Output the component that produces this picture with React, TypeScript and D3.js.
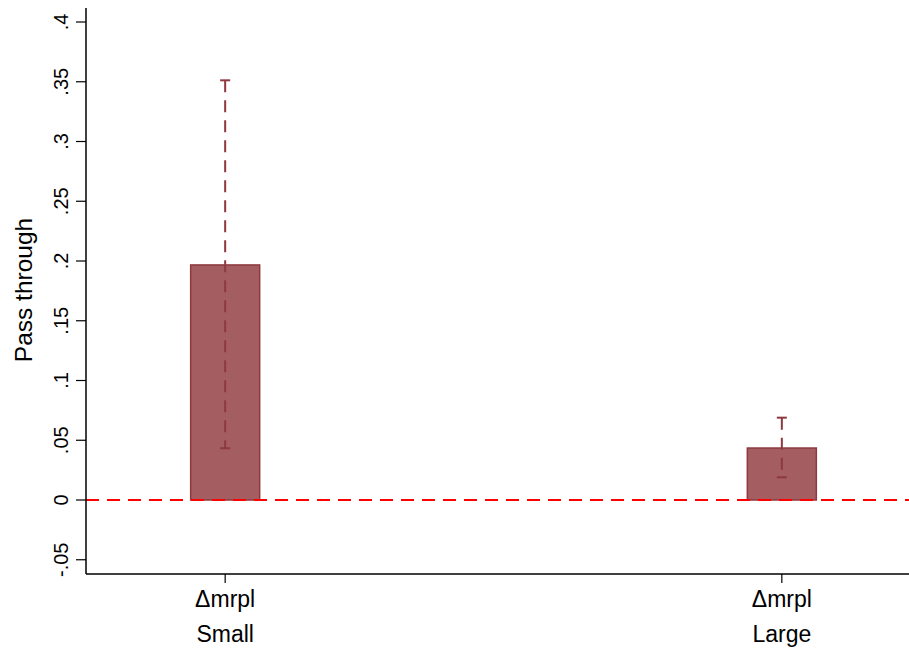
import React from "react";
import * as d3 from "d3";

const categories = ["Small", "Large"];
const variableLabel = "Δmrpl";
const estimates = [0.1967, 0.0435];
const ciLower = [0.0433, 0.019];
const ciUpper = [0.3512, 0.0689];
const yTicks = [-0.05, 0, 0.05, 0.1, 0.15, 0.2, 0.25, 0.3, 0.35, 0.4];
const yTickLabels = ["-.05", "0", ".05", ".1", ".15", ".2", ".25", ".3", ".35", ".4"];

const W = 909;
const H = 652;
const left = 86;
const top = 8;
const bottom = 574;

export default function App() {
  const y = d3.scaleLinear().domain([-0.06192, 0.41172]).range([bottom, top]);
  const x = d3.scalePoint<string>().domain(categories).range([left, 921]).padding(0.25);
  const barW = 69;
  const capW = 10;
  const fill = "#a45e62";
  const stroke = "#8e3840";
  const font = "'Liberation Sans', Arial, Helvetica, sans-serif";

  return (
    <svg width={W} height={H} style={{ position: "absolute", left: 0, top: 0, background: "#fff" }} fontFamily={font}>
      <rect width={W} height={H} fill="#fff" />
      {categories.map((c, i) => (
        <rect
          key={"bar" + c}
          x={(x(c) as number) - barW / 2}
          y={y(Math.max(0, estimates[i]))}
          width={barW}
          height={Math.abs(y(0) - y(estimates[i]))}
          fill={fill}
          stroke={stroke}
          strokeWidth={1.5}
        />
      ))}
      <line x1={left} x2={W} y1={y(0)} y2={y(0)} stroke="#ff0000" strokeWidth={2} strokeDasharray="13,8" />
      {categories.map((c, i) => {
        const cx = x(c) as number;
        return (
          <g key={"ci" + c} stroke={stroke} strokeWidth={2}>
            <line x1={cx} x2={cx} y1={y(ciUpper[i])} y2={y(ciLower[i])} strokeDasharray="12,8" />
            <line x1={cx - capW / 2} x2={cx + capW / 2} y1={y(ciUpper[i])} y2={y(ciUpper[i])} />
            <line x1={cx - capW / 2} x2={cx + capW / 2} y1={y(ciLower[i])} y2={y(ciLower[i])} />
          </g>
        );
      })}
      <line x1={left} x2={left} y1={top} y2={bottom} stroke="#000" strokeWidth={1.5} />
      {yTicks.map((t, i) => (
        <g key={"yt" + i}>
          <line x1={left - 10} x2={left} y1={y(t)} y2={y(t)} stroke="#000" strokeWidth={1.2} />
          <text
            transform={`translate(67.5,${y(t)}) rotate(-90)`}
            textAnchor="middle"
            fontSize={20}
            fill="#000"
          >
            {yTickLabels[i]}
          </text>
        </g>
      ))}
      <text transform={`translate(32,290) rotate(-90)`} textAnchor="middle" fontSize={24.5} fill="#000">
        Pass through
      </text>
      <line x1={left} x2={W} y1={bottom} y2={bottom} stroke="#000" strokeWidth={1.5} />
      {categories.map((c) => {
        const cx = x(c) as number;
        return (
          <g key={"xt" + c}>
            <line x1={cx} x2={cx} y1={bottom} y2={bottom + 9} stroke="#000" strokeWidth={1.2} />
            <text x={cx} y={607} textAnchor="middle" fontSize={23} fill="#000">
              {variableLabel}
            </text>
            <text x={cx} y={641.5} textAnchor="middle" fontSize={23} fill="#000">
              {c}
            </text>
          </g>
        );
      })}
    </svg>
  );
}
